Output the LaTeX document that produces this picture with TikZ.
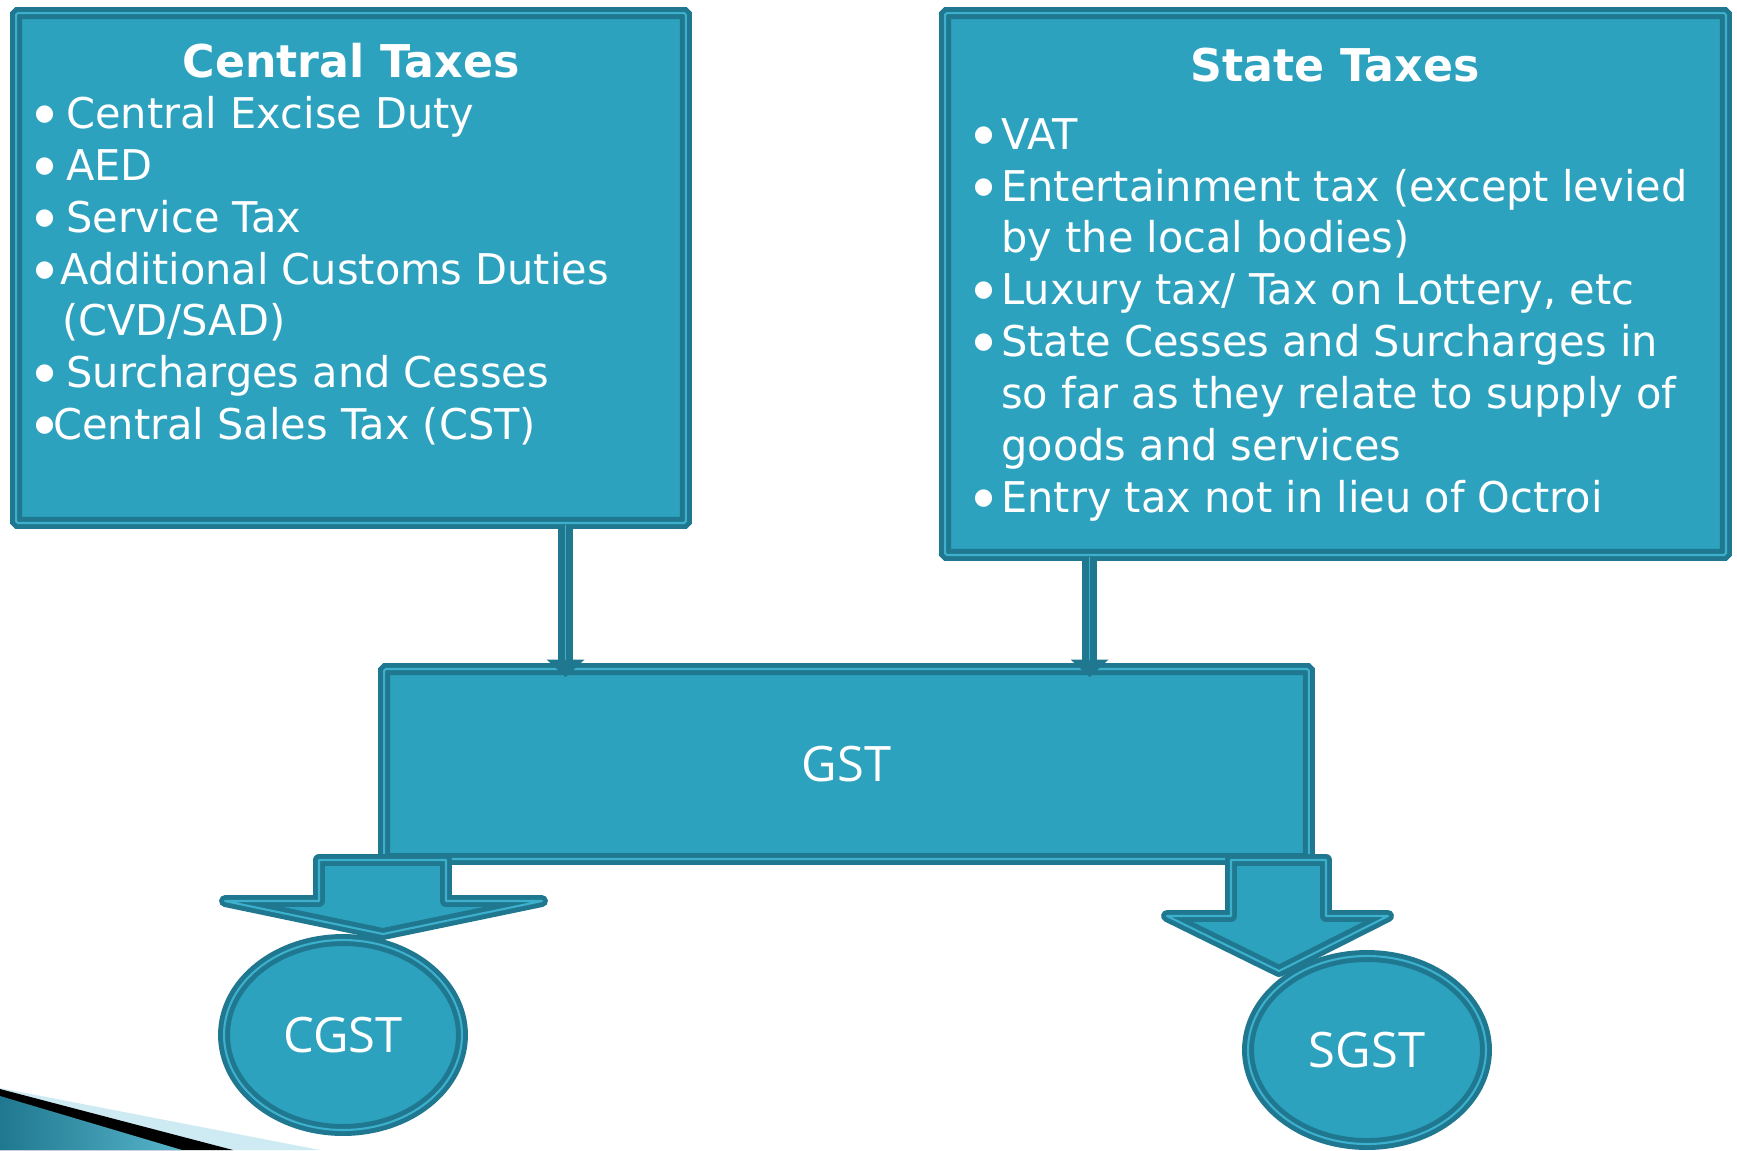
\documentclass[tikz,border=0pt]{standalone}
\usepackage{fontspec}
\setmainfont{DejaVu Sans}[FakeStretch=0.98]
\newfontfamily\gstfont{Open Sans}
\usetikzlibrary{shapes, arrows.meta, positioning, calc}
\definecolor{taxfill}{RGB}{45,162,190}
\definecolor{taxline}{RGB}{31,120,143}
\definecolor{taxlight}{RGB}{60,176,205}
\newcommand{\bul}[1]{\makebox[#1][l]{\hspace*{0.09cm}\raisebox{4.4pt}{\fontsize{13}{13}\selectfont ●}}}

\begin{document}
\begin{tikzpicture}[
        x=0.02cm, y=-0.02cm,
        taxbox/.style={draw=taxline, line width=2.8pt, double=taxlight, double distance=1.2pt, fill=taxfill, rounded corners=1pt, inner sep=0pt, text=white, font=\gstfont\fontsize{27.8}{30}\selectfont},
        taxround/.style={taxbox, ellipse},
        head/.style={anchor=base, text=white, inner sep=0pt, font=\bfseries\fontsize{25.7}{29.5}\selectfont},
        items/.style={anchor=north west, align=left, text=white, inner sep=0pt, font=\fontsize{24.1}{29.5}\selectfont},
        feed/.style={draw=taxline, line width=9pt, shorten >=-6pt, -{Triangle[length=10pt, width=21pt]}, postaction={draw=taxlight, line width=0.8pt, -, shorten >=4pt}},
        split/.style={draw=taxline, line width=2.8pt, double=taxlight, double distance=1.2pt, fill=taxfill, line join=round}
    ]
        \useasboundingbox (0,0) rectangle (1737,1150);
        \fill[white] (0,0) rectangle (1737,1150);

        % Corner decoration
        \fill[taxlight!25] (0,1088) -- (320,1150) -- (0,1150) -- cycle;
        \fill[black] (0,1089) -- (233,1150) -- (0,1150) -- cycle;
        \shade[left color=taxline, right color=taxfill!80] (0,1096) -- (182,1150) -- (0,1150) -- cycle;

        % Boxes
        \node (central) [taxbox, minimum width=13.4cm, minimum height=10.2cm] at (351,268) {};
        \node (state) [taxbox, minimum width=15.62cm, minimum height=10.84cm] at (1335.5,284) {};
        \node (gst) [taxbox, minimum width=18.5cm, minimum height=3.8cm] at (846.5,764) {GST};
        \node (cgst) [taxround, minimum width=4.76cm, minimum height=3.8cm] at (343,1035) {CGST};
        \node (sgst) [taxround, minimum width=4.76cm, minimum height=3.76cm] at (1367,1050) {SGST};

        % Texts
        \node (ctitle) [head] at (351,77) {Central Taxes};
        \node (clist) [items] at (30,96) {\bul{0.72cm}Central Excise Duty\\
            \bul{0.72cm}AED\\
            \bul{0.72cm}Service Tax\\
            \bul{0.6cm}Additional Customs Duties\\
            \hspace*{0.64cm}(CVD/SAD)\\
            \bul{0.72cm}Surcharges and Cesses\\
            \bul{0.46cm}Central Sales Tax (CST)};
        \node (stitle) [head] at (1335,81) {State Taxes};
        \node (slist) [items] at (969,118) {\bul{0.64cm}VAT\\
            \bul{0.64cm}Entertainment tax (except levied\\
            \hspace*{0.64cm}by the local bodies)\\
            \bul{0.64cm}Luxury tax/ Tax on Lottery, etc\\
            \bul{0.64cm}State Cesses and Surcharges in\\
            \hspace*{0.64cm}so far as they relate to supply of\\
            \hspace*{0.64cm}goods and services\\
            \bul{0.64cm}Entry tax not in lieu of Octroi};

        % Feeds into GST
        \draw[feed] ($(central.south west)!0.818!(central.south east)$) coordinate (cfeed) -- (cfeed |- gst.north);
        \draw[feed] ($(state.south west)!0.187!(state.south east)$) coordinate (sfeed) -- (sfeed |- gst.north);

        % Split arrows
        \draw[split] (319,860) -- (319,901) -- (225,901) -- (383,934) -- (542,901) -- (446,901) -- (446,860) -- cycle;
        \draw[split] (1231,860) -- (1231,916) -- (1167,916) -- (1279,971) -- (1388,916) -- (1326,916) -- (1326,860) -- cycle;

    \end{tikzpicture}
\end{document}
